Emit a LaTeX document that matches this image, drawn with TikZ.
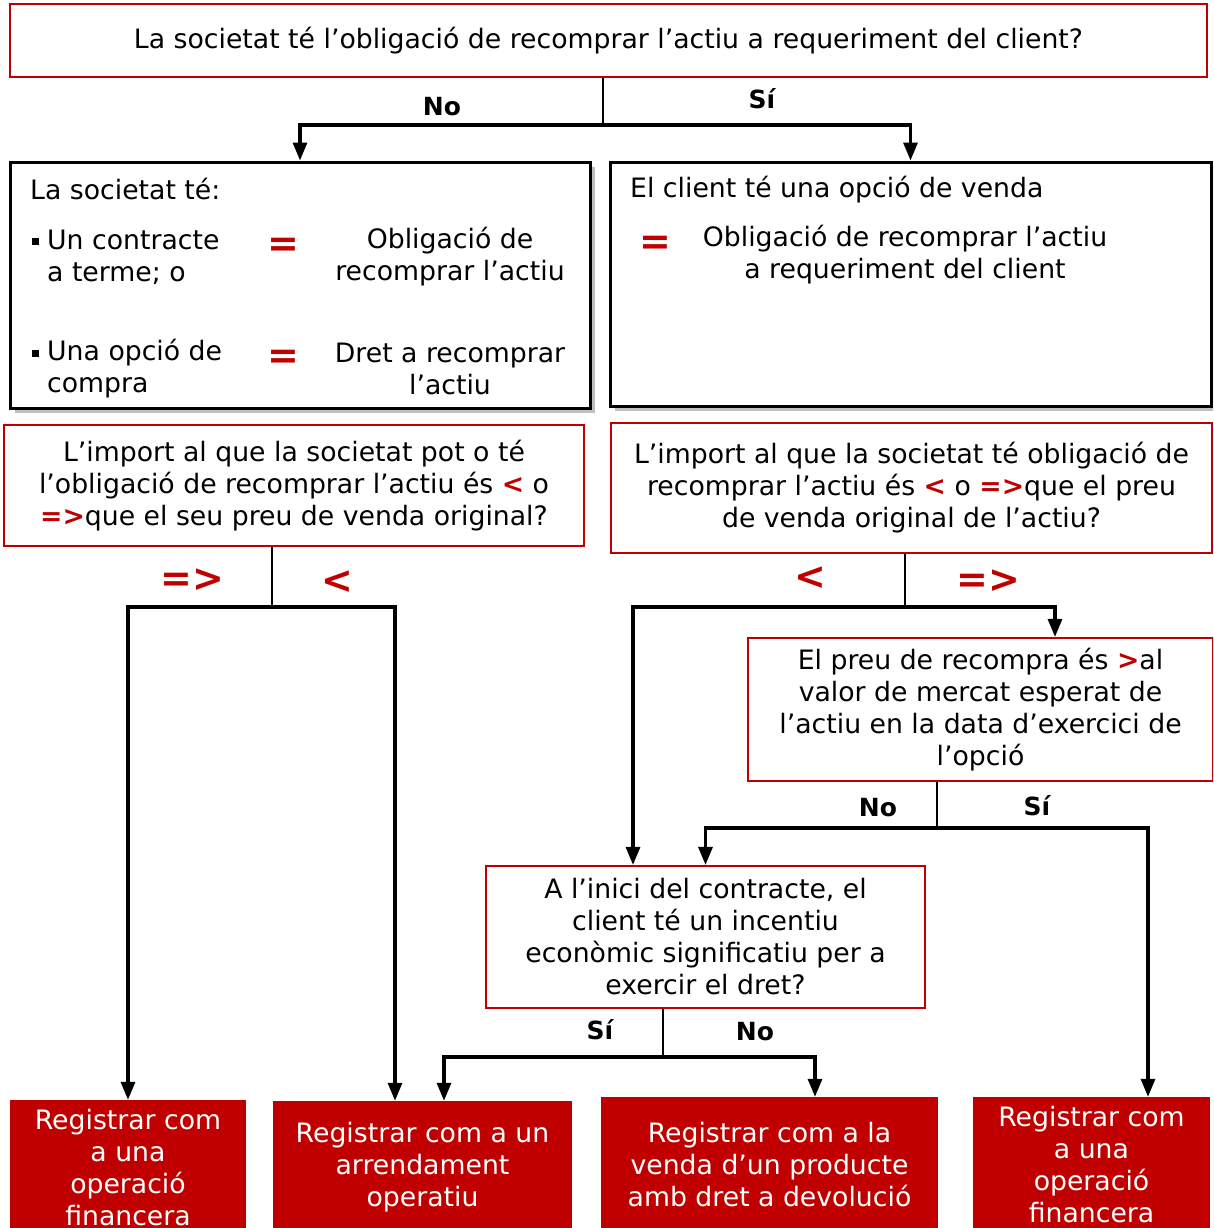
\documentclass[tikz,border=0pt]{standalone}
\usepackage{fontspec}
\setmainfont{DejaVu Sans}
\usetikzlibrary{arrows.meta,shadows}
\definecolor{dred}{HTML}{C00000}
\begin{document}
\begin{tikzpicture}[x=1pt,y=-1pt,
  txt/.style={font=\fontsize{26.7}{32}\selectfont, inner sep=0pt, align=center},
  qbox/.style={draw=dred, line width=2.2pt, fill=white, inner sep=0pt, txt},
  ibox/.style={draw=black, line width=3pt, fill=white, inner sep=0pt,
    drop shadow={shadow xshift=5pt,shadow yshift=-5pt,fill=black!50}},
  rbox/.style={fill=dred, text=white, inner sep=0pt, txt},
  thinline/.style={line width=1.2pt},
  flow/.style={line width=3.2pt, -{Triangle[width=14pt,length=18pt]}},
  lab/.style={font=\fontsize{25}{28}\selectfont\bfseries, inner sep=0pt},
  rlab/.style={font=\fontsize{38}{40}\selectfont\bfseries, text=dred, inner sep=0pt},
  eq/.style={font=\fontsize{38}{40}\selectfont\bfseries, text=dred, inner sep=0pt},
  bul/.style={fill=black, minimum size=7pt, inner sep=0pt}
]
\useasboundingbox (0,0) rectangle (1213,1228);
\clip (0,0) rectangle (1213,1228);

% top question
\node[qbox, minimum width=1197pt, minimum height=73pt] (q0) at (608.5,40.5)
  {\raisebox{-3pt}{La societat té l’obligació de recomprar l’actiu a requeriment del client?}};

% info boxes
\node[ibox, minimum width=580pt, minimum height=246pt] (ib1) at (300,285) {};
\node[ibox, minimum width=601pt, minimum height=244pt] (ib2) at (910.5,284) {};

\node[txt, anchor=west] (t1) at (30,189) {La societat té:};
\node[bul] (b1) at (35,241) {};
\node[txt, align=left, anchor=west] (t2) at (47,257) {Un contracte\\a terme; o};
\node[eq] (e1) at (283,247) {=};
\node[txt] (t3) at (450,257) {Obligació de\\recomprar l’actiu};
\node[bul] (b2) at (35,353) {};
\node[txt, align=left, anchor=west] (t4) at (47,369) {Una opció de\\compra};
\node[eq] (e2) at (283,359) {=};
\node[txt] (t5) at (450,369) {Dret a recomprar\\l’actiu};

\node[txt, anchor=west] (t6) at (630,190) {El client té una opció de venda};
\node[eq] (e3) at (655,245) {=};
\node[txt] (t7) at (905,255) {Obligació de recomprar l’actiu\\a requeriment del client};

% second-level questions
\node[qbox, minimum width=580pt, minimum height=121pt] (q1) at (294,485.5)
  {L’import al que la societat pot o té\\l’obligació de recomprar l’actiu és {\color{dred}\bfseries <} o\\{\color{dred}\bfseries =>}que el seu preu de venda original?};
\node[qbox, minimum width=601pt, minimum height=130pt] (q2) at (911.5,488)
  {L’import al que la societat té obligació de\\recomprar l’actiu és {\color{dred}\bfseries <} o {\color{dred}\bfseries =>}que el preu\\de venda original de l’actiu?};

\node[qbox, minimum width=465pt, minimum height=143pt] (q3) at (980.5,709.5)
  {El preu de recompra és {\color{dred}\bfseries >}al\\valor de mercat esperat de\\l’actiu en la data d’exercici de\\l’opció};
\node[qbox, minimum width=439pt, minimum height=142pt] (q4) at (705.5,937)
  {A l’inici del contracte, el\\client té un incentiu\\econòmic significatiu per a\\exercir el dret?};

% results
\node[rbox, minimum width=236pt, minimum height=136pt] (r1) at (128,1168)
  {Registrar com\\a una\\operació\\financera};
\node[rbox, minimum width=299pt, minimum height=132pt] (r2) at (422.5,1167)
  {Registrar com a un\\arrendament\\operatiu};
\node[rbox, minimum width=337pt, minimum height=136pt] (r3) at (769.5,1165)
  {Registrar com a la\\venda d’un producte\\amb dret a devolució};
\node[rbox, minimum width=237pt, minimum height=136pt] (r4) at (1091.5,1165)
  {Registrar com\\a una\\operació\\financera};

% connectors
\coordinate (j0) at (603,125);
\draw[thinline] (j0 |- q0.south) -- (j0);
\draw[flow] (j0) -| (ib1.north);
\draw[flow] (j0) -| (ib2.north);
\node[lab] (l0a) at (442,107) {No};
\node[lab] (l0b) at (762,99) {Sí};

\coordinate (j1) at (272,607);
\draw[thinline] (j1 |- q1.south) -- (j1);
\draw[flow] (j1) -| (r1.north);
\draw[flow] (j1) -| ([xshift=-27.5pt]r2.north);
\node[rlab] (l1a) at (192,580) {=>};
\node[rlab] (l1b) at (337,582) {<};

\coordinate (j2) at (905,607);
\draw[thinline] (j2 |- q2.south) -- (j2);
\draw[flow] (j2) -| ([xshift=74.5pt]q3.north);
\draw[flow] (j2) -| ([xshift=-72.5pt]q4.north);
\node[rlab] (l2a) at (810,578) {<};
\node[rlab] (l2b) at (988,581) {=>};

\coordinate (j3) at (937,828);
\draw[thinline] (j3 |- q3.south) -- (j3);
\draw[flow] (j3) -| (q4.north);
\draw[flow] (j3) -| ([xshift=56.5pt]r4.north);
\node[lab] (l3a) at (878,808) {No};
\node[lab] (l3b) at (1037,806) {Sí};

\coordinate (j4) at (663,1057);
\draw[thinline] (j4 |- q4.south) -- (j4);
\draw[flow] (j4) -| ([xshift=21.5pt]r2.north);
\draw[flow] (j4) -| ([xshift=45.5pt]r3.north);
\node[lab] (l4a) at (600,1030) {Sí};
\node[lab] (l4b) at (755,1032) {No};
\end{tikzpicture}
\end{document}
